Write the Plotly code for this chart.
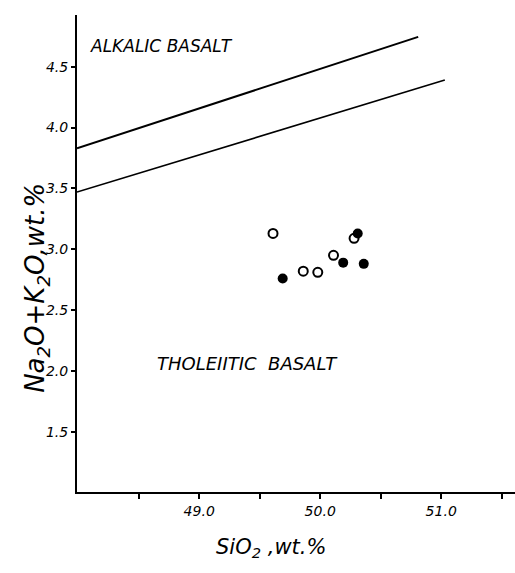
import plotly.graph_objects as go

# Boundary lines (alkalic / tholeiitic divides)
upper_x = [47.99, 50.81]
upper_y = [3.83, 4.745]
lower_x = [47.99, 51.03]
lower_y = [3.47, 4.39]

# Samples
open_x = [49.61, 49.86, 49.98, 50.11, 50.28]
open_y = [3.13, 2.82, 2.81, 2.95, 3.09]
filled_x = [49.69, 50.19, 50.31, 50.36]
filled_y = [2.76, 2.89, 3.13, 2.88]

y_ticks = [1.5, 2.0, 2.5, 3.0, 3.5, 4.0, 4.5]
y_ticktext = ["1.5", "2.0", "2.5", "3.0", "3.5", "4.0", "4.5"]
x_ticks = [49.0, 50.0, 51.0]
x_ticktext = ["49.0", "50.0", "51.0"]
x_minor_ticks = [48.5, 49.5, 50.5, 51.5]

FONT = "DejaVu Sans"

fig = go.Figure()
fig.add_trace(go.Scatter(x=upper_x, y=upper_y, mode="lines",
                         line=dict(color="black", width=2), showlegend=False))
fig.add_trace(go.Scatter(x=lower_x, y=lower_y, mode="lines",
                         line=dict(color="black", width=1.6), showlegend=False))
fig.add_trace(go.Scatter(x=open_x, y=open_y, mode="markers",
                         marker=dict(symbol="circle-open", size=9, color="black",
                                     line=dict(width=2)), showlegend=False))
fig.add_trace(go.Scatter(x=filled_x, y=filled_y, mode="markers",
                         marker=dict(symbol="circle", size=10, color="black"),
                         showlegend=False))

fig.update_layout(
    width=515, height=573,
    margin=dict(l=77, r=0, t=15, b=81),
    paper_bgcolor="white", plot_bgcolor="white",
    font=dict(family=FONT, color="black"),
    xaxis=dict(range=[47.99, 51.61], tickvals=x_ticks, ticktext=x_ticktext,
               showgrid=False, zeroline=False, showline=True, linecolor="black",
               linewidth=2, ticks="outside", ticklen=5, tickwidth=1.5, tickcolor="black",
               minor=dict(tickvals=x_minor_ticks, ticks="outside", ticklen=5,
                          tickwidth=1.5, tickcolor="black", showgrid=False),
               tickfont=dict(size=14, style="italic", family=FONT)),
    yaxis=dict(range=[1.005, 4.925], tickvals=y_ticks, ticktext=y_ticktext,
               showgrid=False, zeroline=False, showline=True, linecolor="black",
               linewidth=2, ticks="outside", ticklen=4, tickwidth=1.5, tickcolor="black",
               ticklabelstandoff=0,
               tickfont=dict(size=14, style="italic", family=FONT)),
    annotations=[
        dict(text="ALKALIC BASALT", x=48.69, y=4.67, xref="x", yref="y",
             xanchor="center", yanchor="middle",
             showarrow=False, font=dict(size=17, style="italic", family=FONT)),
        dict(text="THOLEIITIC\u00a0\u00a0BASALT", x=49.40, y=2.065, xref="x", yref="y",
             xanchor="center", yanchor="middle",
             showarrow=False, font=dict(size=18, style="italic", family=FONT)),
        dict(text="Na<sub>2</sub>O+K<sub>2</sub>O,wt.%", x=-0.0913, y=0.428,
             xref="paper", yref="paper", textangle=-90, showarrow=False,
             xanchor="center", yanchor="middle",
             font=dict(size=26, style="italic", family=FONT)),
        dict(text="SiO<sub>2</sub> ,wt.%", x=0.443, y=-0.117,
             xref="paper", yref="paper", showarrow=False,
             xanchor="center", yanchor="middle",
             font=dict(size=21, style="italic", family=FONT)),
    ],
)

fig.write_html("out.html")
